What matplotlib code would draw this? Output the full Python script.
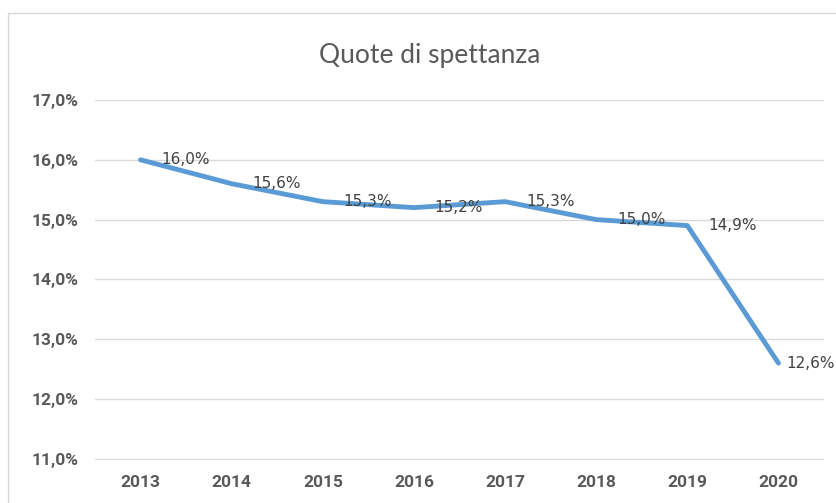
import matplotlib.pyplot as plt
from matplotlib.patches import Rectangle

anni = ["2013", "2014", "2015", "2016", "2017", "2018", "2019", "2020"]
quote = [16.0, 15.6, 15.3, 15.2, 15.3, 15.0, 14.9, 12.6]
yticks = [11, 12, 13, 14, 15, 16, 17]

fig = plt.figure(figsize=(8.36, 5.03), dpi=100)
ax = fig.add_axes([95 / 836, 1 - 460 / 503, 729 / 836, 360 / 503])

# bordo del grafico
fig.patches.append(Rectangle((8 / 836, -0.1), 1.0, 1 - 13 / 503 + 0.1,
                             transform=fig.transFigure, fill=False,
                             edgecolor="#d9d9d9", linewidth=1))

x = range(len(anni))
ax.plot(x, quote, color="#5b9bd5", linewidth=3.5, solid_capstyle="round",
        solid_joinstyle="round", zorder=3)

for i, v in zip(x, quote):
    lab = ("%.1f%%" % v).replace(".", ",")
    dx = 15 if i < len(anni) - 1 else 6
    ax.annotate(lab, (i, v), xytext=(dx, 0), textcoords="offset points",
                ha="left", va="center", fontsize=11, color="#404040",
                annotation_clip=False)

ax.set_xlim(-0.5, len(anni) - 0.5)
ax.set_ylim(10.98, 17)
ax.set_yticks(yticks)
ax.set_yticklabels([("%.1f%%" % t).replace(".", ",") for t in yticks])
ax.set_xticks(list(x))
ax.set_xticklabels(anni)
ax.grid(axis="y", color="#d9d9d9", linewidth=1)
ax.set_axisbelow(True)
for s in ax.spines.values():
    s.set_visible(False)
ax.tick_params(length=0, colors="#595959", labelsize=12.5)
ax.tick_params(axis="y", pad=12)
ax.tick_params(axis="x", pad=11)
for t in ax.get_xticklabels() + ax.get_yticklabels():
    t.set_fontweight("bold")
    t.set_family(["Roboto", "DejaVu Sans"])

fig.text(430 / 836, 1 - 55 / 503, "Quote di spettanza", ha="center",
         va="center", fontsize=19, color="#595959",
         family=["Lato", "DejaVu Sans"])

fig.savefig("out.png", dpi=100)
